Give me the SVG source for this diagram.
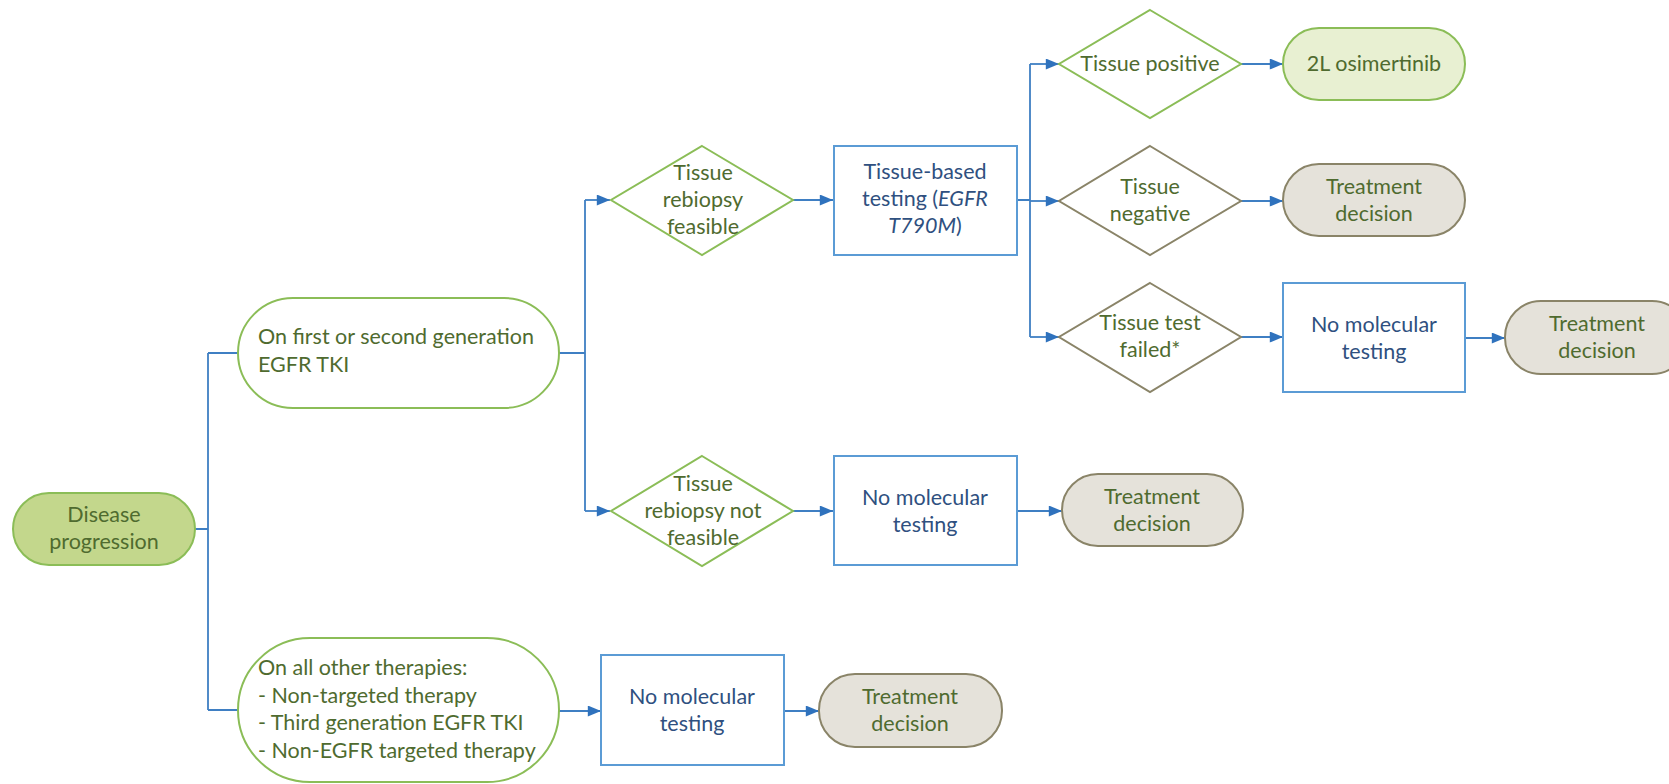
<svg xmlns="http://www.w3.org/2000/svg" width="1669" height="784" viewBox="0 0 1669 784">
<defs>
<style>
text{font-family:Lato,"Liberation Sans",sans-serif;font-size:21.5px}
.g{fill:#4f6b2f}
.b{fill:#2f5080}
.c{text-anchor:middle}
.pillg{fill:#c3d78c;stroke:#8bbd57;stroke-width:2}
.pilll{fill:#e8f0d2;stroke:#8bbd57;stroke-width:2}
.pillw{fill:#ffffff;stroke:#8bbd57;stroke-width:2}
.pillt{fill:#e5e2da;stroke:#8a8468;stroke-width:2}
.dg{fill:#ffffff;stroke:#8bbd57;stroke-width:2}
.dt{fill:#ffffff;stroke:#8a8468;stroke-width:2}
.box{fill:#ffffff;stroke:#5b9bd5;stroke-width:2}
.ln{fill:none;stroke:#3f7fc3;stroke-width:1.8}
</style>
<marker id="ah" viewBox="0 0 10 10" refX="10" refY="5" markerWidth="7" markerHeight="7" markerUnits="userSpaceOnUse" orient="auto">
<path d="M0,0 L10,5 L0,10 z" fill="#2f72bd"/>
</marker>
<marker id="a" viewBox="0 0 12 10" refX="12" refY="5" markerWidth="14" markerHeight="11" markerUnits="userSpaceOnUse" orient="auto">
<path d="M0,0 L12,5 L0,10 z" fill="#2f72bd"/>
</marker>
</defs>

<g id="connectors">
<path class="ln" d="M195,529 H208 M208,353 V710 M208,353 H238 M208,710 H238"/>
<path class="ln" d="M559,353 H585 M585,200 V511"/>
<path class="ln" d="M585,200 H610" marker-end="url(#a)"/>
<path class="ln" d="M585,511 H610" marker-end="url(#a)"/>
<path class="ln" d="M793,200 H833" marker-end="url(#a)"/>
<path class="ln" d="M793,511 H833" marker-end="url(#a)"/>
<path class="ln" d="M1017,200 H1030 M1030,64 V337"/>
<path class="ln" d="M1030,64 H1059" marker-end="url(#a)"/>
<path class="ln" d="M1030,201 H1059" marker-end="url(#a)"/>
<path class="ln" d="M1030,337 H1059" marker-end="url(#a)"/>
<path class="ln" d="M1241,64 H1283" marker-end="url(#a)"/>
<path class="ln" d="M1241,201 H1283" marker-end="url(#a)"/>
<path class="ln" d="M1241,337 H1283" marker-end="url(#a)"/>
<path class="ln" d="M1465,338 H1505" marker-end="url(#a)"/>
<path class="ln" d="M1017,511 H1062" marker-end="url(#a)"/>
<path class="ln" d="M559,711 H601" marker-end="url(#a)"/>
<path class="ln" d="M784,711 H819" marker-end="url(#a)"/>
</g>

<g id="disease-progression">
<rect class="pillg" x="13" y="493" width="182" height="72" rx="36"/>
<text class="g c" x="104" y="522">Disease</text>
<text class="g c" x="104" y="549">progression</text>
</g>

<g id="first-second-gen">
<rect class="pillw" x="238" y="298" width="321" height="110" rx="55"/>
<text class="g" x="258" y="344">On first or second generation</text>
<text class="g" x="258" y="372">EGFR TKI</text>
</g>

<g id="all-other">
<rect class="pillw" x="238" y="638" width="321" height="144" rx="72"/>
<text class="g" x="258" y="675">On all other therapies:</text>
<text class="g" x="258" y="703">- Non-targeted therapy</text>
<text class="g" x="258" y="730">- Third generation EGFR TKI</text>
<text class="g" x="258" y="758">- Non-EGFR targeted therapy</text>
</g>

<g id="rebiopsy-feasible">
<polygon class="dg" points="702,146 793,200 702,255 611,200"/>
<text class="g c" x="703" y="180">Tissue</text>
<text class="g c" x="703" y="207">rebiopsy</text>
<text class="g c" x="703" y="234">feasible</text>
</g>

<g id="tissue-testing">
<rect class="box" x="834" y="146" width="183" height="109"/>
<text class="b c" x="925" y="179">Tissue-based</text>
<text class="b c" x="925" y="206">testing (<tspan font-style="italic">EGFR</tspan></text>
<text class="b c" x="925" y="233"><tspan font-style="italic">T790M</tspan>)</text>
</g>

<g id="rebiopsy-not-feasible">
<polygon class="dg" points="702,456 793,511 702,566 611,511"/>
<text class="g c" x="703" y="491">Tissue</text>
<text class="g c" x="703" y="518">rebiopsy not</text>
<text class="g c" x="703" y="545">feasible</text>
</g>

<g id="no-testing-mid">
<rect class="box" x="834" y="456" width="183" height="109"/>
<text class="b c" x="925" y="505">No molecular</text>
<text class="b c" x="925" y="532">testing</text>
</g>

<g id="treatment-mid">
<rect class="pillt" x="1062" y="474" width="181" height="72" rx="36"/>
<text class="g c" x="1152" y="504">Treatment</text>
<text class="g c" x="1152" y="531">decision</text>
</g>

<g id="tissue-positive">
<polygon class="dg" points="1150,10 1241,64 1150,118 1059,64"/>
<text class="g c" x="1150" y="71">Tissue positive</text>
</g>

<g id="osimertinib">
<rect class="pilll" x="1283" y="28" width="182" height="72" rx="36"/>
<text class="g c" x="1374" y="71">2L osimertinib</text>
</g>

<g id="tissue-negative">
<polygon class="dt" points="1150,146 1241,201 1150,255 1059,201"/>
<text class="g c" x="1150" y="194">Tissue</text>
<text class="g c" x="1150" y="221">negative</text>
</g>

<g id="treatment-top">
<rect class="pillt" x="1283" y="164" width="182" height="72" rx="36"/>
<text class="g c" x="1374" y="194">Treatment</text>
<text class="g c" x="1374" y="221">decision</text>
</g>

<g id="tissue-failed">
<polygon class="dt" points="1150,283 1241,337 1150,392 1059,337"/>
<text class="g c" x="1150" y="330">Tissue test</text>
<text class="g c" x="1150" y="357">failed*</text>
</g>

<g id="no-testing-right">
<rect class="box" x="1283" y="283" width="182" height="109"/>
<text class="b c" x="1374" y="332">No molecular</text>
<text class="b c" x="1374" y="359">testing</text>
</g>

<g id="treatment-right">
<rect class="pillt" x="1505" y="301" width="183" height="73" rx="36"/>
<text class="g c" x="1597" y="331">Treatment</text>
<text class="g c" x="1597" y="358">decision</text>
</g>

<g id="no-testing-bottom">
<rect class="box" x="601" y="655" width="183" height="110"/>
<text class="b c" x="692" y="704">No molecular</text>
<text class="b c" x="692" y="731">testing</text>
</g>

<g id="treatment-bottom">
<rect class="pillt" x="819" y="674" width="183" height="73" rx="36"/>
<text class="g c" x="910" y="704">Treatment</text>
<text class="g c" x="910" y="731">decision</text>
</g>
</svg>
